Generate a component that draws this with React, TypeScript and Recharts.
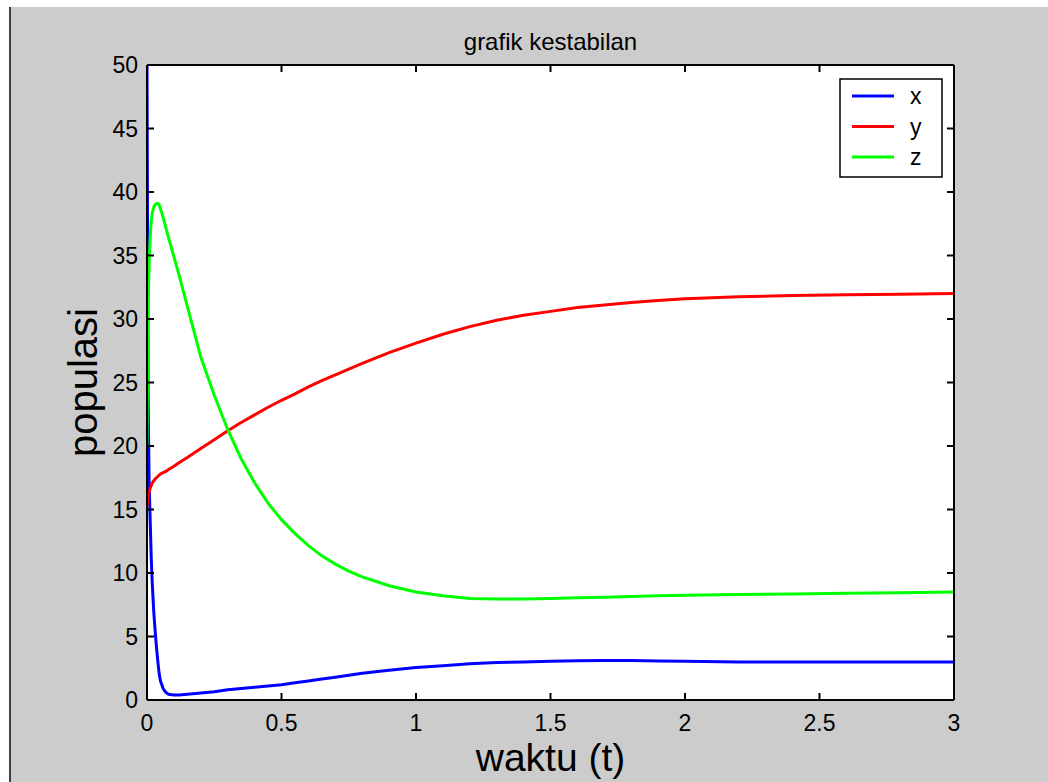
import React from "react";
import {
  LineChart,
  Line,
  XAxis,
  YAxis,
  CartesianGrid,
  Legend,
} from "recharts";

const FONT = "'Liberation Sans', Arial, Helvetica, sans-serif";

// waktu (t)
const waktu = [
  0, 0.004, 0.008, 0.012, 0.016, 0.02, 0.025, 0.03, 0.035, 0.04, 0.045, 0.05,
  0.06, 0.07, 0.08, 0.1, 0.12, 0.15, 0.2, 0.25, 0.3, 0.35, 0.4, 0.45, 0.5,
  0.55, 0.6, 0.65, 0.7, 0.75, 0.8, 0.9, 1.0, 1.1, 1.2, 1.3, 1.4, 1.5, 1.6,
  1.7, 1.8, 1.9, 2.0, 2.2, 2.4, 2.6, 2.8, 3.0,
];

const popX = [
  50, 24, 17, 14, 11, 9, 7, 5.5, 4.2, 3.1, 2.1, 1.5, 0.9, 0.6, 0.45, 0.4, 0.4,
  0.45, 0.55, 0.65, 0.8, 0.9, 1.0, 1.1, 1.2, 1.35, 1.5, 1.65, 1.8, 1.95, 2.1,
  2.35, 2.55, 2.7, 2.85, 2.95, 3.0, 3.05, 3.1, 3.12, 3.12, 3.08, 3.05, 3.0,
  3.0, 3.0, 3.0, 3.0,
];

const popY = [
  15.2, 16.0, 16.4, 16.7, 16.9, 17.1, 17.25, 17.4, 17.5, 17.6, 17.7, 17.8,
  17.9, 18.0, 18.15, 18.4, 18.7, 19.1, 19.8, 20.5, 21.2, 21.85, 22.45, 23.05,
  23.6, 24.1, 24.65, 25.15, 25.6, 26.05, 26.5, 27.35, 28.1, 28.8, 29.4, 29.9,
  30.3, 30.6, 30.9, 31.1, 31.3, 31.45, 31.6, 31.75, 31.85, 31.9, 31.95, 32.0,
];

const popZ = [
  20, 31, 34.5, 36.5, 37.8, 38.4, 38.8, 39.0, 39.1, 39.1, 39.0, 38.7, 38.0,
  37.2, 36.4, 34.9, 33.4, 31.0, 27.0, 24.0, 21.3, 19.0, 17.1, 15.5, 14.2,
  13.1, 12.15, 11.35, 10.7, 10.15, 9.7, 9.0, 8.5, 8.2, 8.0, 7.95, 7.95, 8.0,
  8.05, 8.1, 8.15, 8.2, 8.25, 8.3, 8.35, 8.4, 8.45, 8.5,
];

const xTicks = [0, 0.5, 1, 1.5, 2, 2.5, 3];
const yTicks = [0, 5, 10, 15, 20, 25, 30, 35, 40, 45, 50];

const rows = waktu.map((t, i) => ({ t, x: popX[i], y: popY[i], z: popZ[i] }));

// ticks point inward, like the matlab box axes
function BottomTick({ x, y, payload }: any) {
  return (
    <g>
      <line x1={x} y1={y} x2={x} y2={y - 7} stroke="#000" strokeWidth={2} />
      <text x={x} y={y + 31} textAnchor="middle" fontSize={23} fontFamily={FONT} fill="#000">
        {payload.value}
      </text>
    </g>
  );
}

function TopTick({ x, y }: any) {
  return <line x1={x} y1={y} x2={x} y2={y + 7} stroke="#000" strokeWidth={2} />;
}

function LeftTick({ x, y, payload }: any) {
  return (
    <g>
      <line x1={x} y1={y} x2={x + 7} y2={y} stroke="#000" strokeWidth={2} />
      <text x={x - 9} y={y + 8} textAnchor="end" fontSize={23} fontFamily={FONT} fill="#000">
        {payload.value}
      </text>
    </g>
  );
}

function RightTick({ x, y }: any) {
  return <line x1={x} y1={y} x2={x - 7} y2={y} stroke="#000" strokeWidth={2} />;
}

function LegendBox({ payload }: any) {
  const items = payload ?? [];
  return (
    <svg width={104} height={100} style={{ display: "block" }}>
      <rect x={1} y={1} width={102} height={98} fill="#fff" stroke="#000" strokeWidth={1.5} />
      {items.map((it: any, i: number) => (
        <g key={it.value}>
          <line x1={13} x2={55} y1={18 + i * 30.5} y2={18 + i * 30.5} stroke={it.color} strokeWidth={3} />
          <text x={71} y={26 + i * 30.5} fontSize={23} fontFamily={FONT} fill="#000">
            {it.value}
          </text>
        </g>
      ))}
    </svg>
  );
}

export default function App() {
  return (
    <div style={{ position: "absolute", left: 0, top: 0, width: 1048, height: 782, background: "#fff", overflow: "hidden" }}>
      <div style={{ position: "absolute", left: 11, top: 7, right: 0, bottom: 0, background: "#cccccc" }} />
      <div style={{ position: "absolute", left: 9, top: 7, width: 2, bottom: 0, background: "#3c3c4c" }} />
      <div style={{ position: "absolute", left: 0, top: 0 }}>
        <LineChart width={1048} height={782} data={rows} margin={{ top: 64, right: 93, bottom: 0, left: 0 }}>
          <CartesianGrid fill="#ffffff" fillOpacity={1} horizontal={false} vertical={false} />
          <XAxis
            dataKey="t"
            type="number"
            domain={[0, 3]}
            ticks={xTicks}
            interval={0}
            allowDataOverflow
            height={82}
            tickSize={0}
            tickMargin={0}
            tickLine={false}
            tick={<BottomTick />}
            axisLine={{ stroke: "#000", strokeWidth: 2 }}
            label={{
              content: (p: any) => (
                <text x={p.viewBox.x + p.viewBox.width / 2} y={p.viewBox.y + 71} textAnchor="middle" fontSize={39} fontFamily={FONT} fill="#000">
                  waktu (t)
                </text>
              ),
            }}
          />
          <XAxis
            xAxisId="top"
            orientation="top"
            dataKey="t"
            type="number"
            domain={[0, 3]}
            ticks={xTicks}
            interval={0}
            allowDataOverflow
            height={1}
            tickSize={0}
            tickMargin={0}
            tickLine={false}
            tick={<TopTick />}
            axisLine={{ stroke: "#000", strokeWidth: 2 }}
            label={{
              content: (p: any) => (
                <text x={p.viewBox.x + p.viewBox.width / 2} y={50} textAnchor="middle" fontSize={24} fontFamily={FONT} fill="#000">
                  grafik kestabilan
                </text>
              ),
            }}
          />
          <YAxis
            type="number"
            domain={[0, 50]}
            ticks={yTicks}
            interval={0}
            allowDataOverflow
            width={147}
            tickSize={0}
            tickMargin={0}
            tickLine={false}
            tick={<LeftTick />}
            axisLine={{ stroke: "#000", strokeWidth: 2 }}
            label={{
              content: (p: any) => {
                const cy = p.viewBox.y + p.viewBox.height / 2;
                return (
                  <text x={97} y={cy} transform={`rotate(-90, 97, ${cy})`} textAnchor="middle" fontSize={40} fontFamily={FONT} fill="#000">
                    populasi
                  </text>
                );
              },
            }}
          />
          <YAxis
            yAxisId="right"
            orientation="right"
            type="number"
            domain={[0, 50]}
            ticks={yTicks}
            interval={0}
            allowDataOverflow
            width={1}
            tickSize={0}
            tickMargin={0}
            tickLine={false}
            tick={<RightTick />}
            axisLine={{ stroke: "#000", strokeWidth: 2 }}
          />
          <Legend
            layout="vertical"
            align="center"
            verticalAlign="middle"
            content={<LegendBox />}
            wrapperStyle={{ left: 839, top: 78, width: 104, height: 100 }}
          />
          <Line type="linear" dataKey="x" name="x" stroke="#0000ff" strokeWidth={3} dot={false} isAnimationActive={false} />
          <Line type="linear" dataKey="y" name="y" stroke="#ff0000" strokeWidth={3} dot={false} isAnimationActive={false} />
          <Line type="linear" dataKey="z" name="z" stroke="#00ff00" strokeWidth={3} dot={false} isAnimationActive={false} />
        </LineChart>
      </div>
    </div>
  );
}
